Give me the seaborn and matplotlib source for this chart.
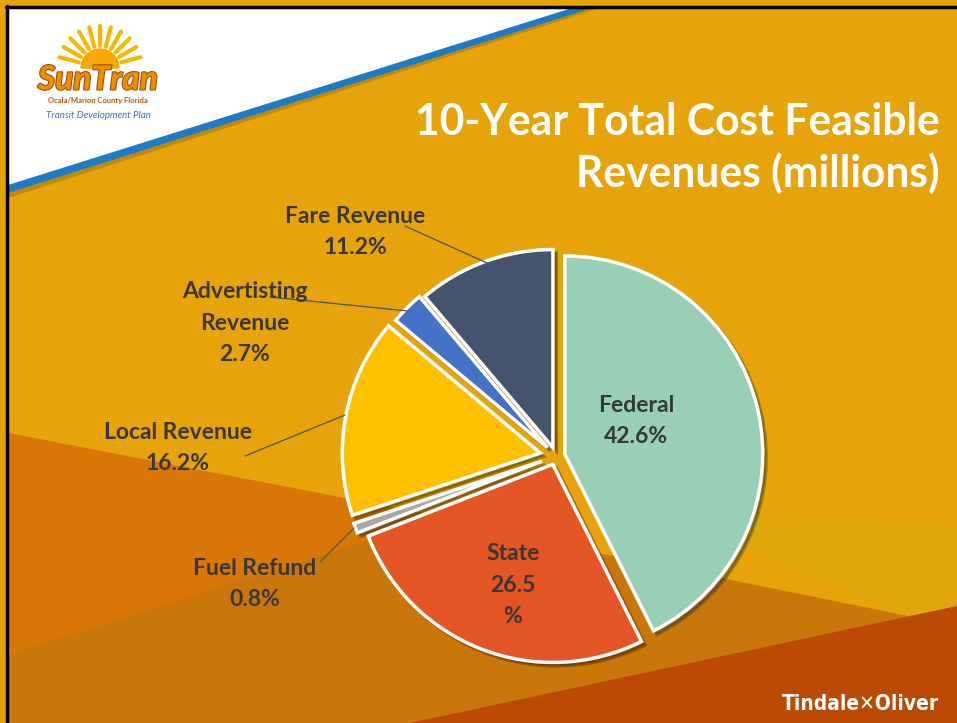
import numpy as np
import matplotlib
matplotlib.use("Agg")
import matplotlib.pyplot as plt
import matplotlib.patches as mpatches
import matplotlib.patheffects as pe
import seaborn as sns

sns.set_theme(style="white")
plt.rcParams['font.family'] = ['Lato', 'DejaVu Sans']

# data
categories = ["Federal", "State", "Fuel Refund", "Local Revenue", "Advertisting\nRevenue", "Fare Revenue"]
shares = [42.6, 26.5, 0.8, 16.2, 2.7, 11.2]
share_text = ["42.6%", "26.5\n%", "0.8%", "16.2%", "2.7%", "11.2%"]
slice_colors = ["#99CFB5", "#E55425", "#A6A6A6", "#FFC000", "#4472C4", "#44546A"]
explode_px = [9, 9, 15, 16, 12, 9]

W, H = 957, 723


def Y(py):
    # picture rows run downwards, axes y runs upwards
    return H - py


fig = plt.figure(figsize=(9.57, 7.23), dpi=100)
ax = fig.add_axes([0, 0, 1, 1])

# slide background
ax.add_patch(mpatches.Rectangle((0, 0), W, H, color="#E6A30A", zorder=0))
bands = [
    ([(8, 433), (913, 617), (957, 612), (957, 723), (8, 723)], "#C9760A"),
    ([(8, 433), (444, 517), (8, 655)], "#D97706"),
    ([(640, 505), (957, 525), (957, 612), (913, 617)], "#E0A70C"),
    ([(410, 723), (957, 606), (957, 723)], "#BB4A03"),
]
for pts, col in bands:
    ax.add_patch(mpatches.Polygon([(x, Y(y)) for x, y in pts], closed=True,
                                  color=col, lw=0, zorder=0.5))

# white corner with blue stripe
ax.add_patch(mpatches.Polygon([(8, Y(8)), (600, Y(8)), (8, Y(198))], closed=True,
                              color="#7A5A10", alpha=0.35, lw=0, zorder=0.8))
ax.add_patch(mpatches.Polygon([(8, Y(8)), (592, Y(8)), (8, Y(193))], closed=True,
                              color="#1E7BC6", lw=0, zorder=0.9))
ax.add_patch(mpatches.Polygon([(8, Y(8)), (572, Y(8)), (8, Y(185))], closed=True,
                              color="white", lw=0, zorder=1))

# black frame on the top and left
ax.plot([7, 7], [Y(723), Y(6)], color="black", lw=2.5, zorder=2)
ax.plot([6, W], [Y(7), Y(7)], color="black", lw=2.5, zorder=2)

# pie (explode is in data units here, so pixels)
wedges, _ = ax.pie(shares, colors=slice_colors, explode=explode_px, startangle=90,
                   counterclock=False, center=(556, Y(456)), radius=198,
                   wedgeprops=dict(edgecolor="white", linewidth=2.5),
                   shadow=dict(ox=2.5, oy=-2.5, shade=0.75, alpha=0.35),
                   frame=True)

label_kw = dict(ha="center", va="center", fontsize=16.5, fontweight="bold",
                color="#383838", zorder=5, linespacing=1.62)
ax.text(636, Y(421), categories[0] + "\n" + share_text[0], **label_kw)
ax.text(513, Y(585), categories[1] + "\n" + share_text[1], **label_kw)
ax.text(355, Y(232), categories[5] + "\n" + share_text[5], **label_kw)
ax.text(245, Y(323), categories[4] + "\n" + share_text[4], **label_kw)
ax.text(178, Y(448), categories[3] + "\n" + share_text[3], **label_kw)
ax.text(255, Y(584), categories[2] + "\n" + share_text[2], **label_kw)

# leader lines
leaders = [((405, 226), (487, 263)), ((270, 297), (408, 311)),
           ((245, 456), (345, 415)), ((320, 562), (354, 528))]
for (x0, y0), (x1, y1) in leaders:
    ax.plot([x0, x1], [Y(y0), Y(y1)], color="#44546A", lw=0.9, zorder=4)

# title
ax.text(940, Y(122), "10-Year Total Cost Feasible", ha="right", va="center",
        fontsize=30.7, fontweight="bold", color="white", zorder=5)
ax.text(940, Y(173), "Revenues (millions)", ha="right", va="center",
        fontsize=30.7, fontweight="bold", color="white", zorder=5)

# SunTran logo
sun_c = (100, Y(68))
for ang in np.linspace(15, 165, 11):
    a = np.deg2rad(ang)
    ax.plot([sun_c[0] + 22 * np.cos(a), sun_c[0] + 42 * np.cos(a)],
            [sun_c[1] + 22 * np.sin(a), sun_c[1] + 42 * np.sin(a)],
            color="#F5B800", lw=3, solid_capstyle="round", zorder=3)
ax.add_patch(mpatches.Wedge(sun_c, 19, 0, 180, color="#F7A800", zorder=3))
ax.text(98, Y(80), "SunTran", ha="center", va="center", fontsize=24,
        fontweight="black", fontstyle="italic", color="#F08C00", zorder=4,
        path_effects=[pe.withStroke(linewidth=1.5, foreground="#9A4A08")])
ax.text(98, Y(101), "Ocala/Marion County Florida", ha="center", va="center",
        fontsize=5.5, fontweight="bold", color="#B8560E", zorder=4)
ax.text(98, Y(116), "Transit Development Plan", ha="center", va="center",
        fontsize=7, fontstyle="italic", color="#3A6FC0", zorder=4)

# footer logo
ax.text(860, Y(704), "Tindale✕Oliver", ha="center", va="center", fontsize=15,
        fontweight="bold", color="white", zorder=5, fontstretch="condensed",
        family=["Liberation Sans Narrow", "DejaVu Sans"])

ax.set_xlim(0, W)
ax.set_ylim(0, H)
ax.set_aspect("equal")
ax.axis("off")

fig.savefig("out.png", dpi=100)
